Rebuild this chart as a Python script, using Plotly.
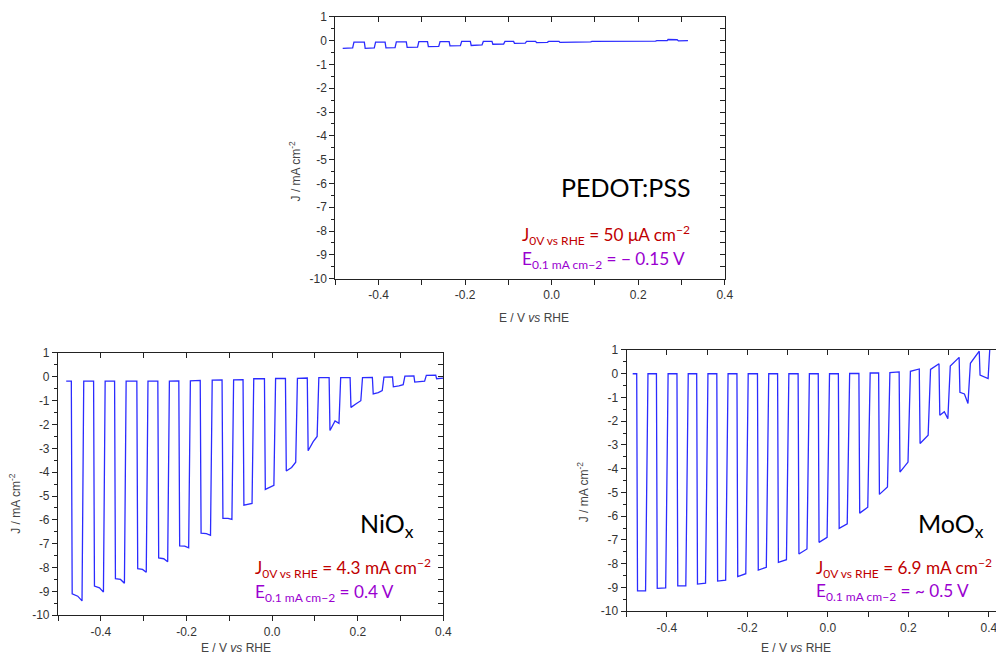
import plotly.graph_objects as go

# ------------------------------------------------------------------ data
# Chopped-light LSV curves, J in mA cm^-2 vs E in V vs RHE.
# Each curve: light-on / light-off potentials, photocurrent at start / middle / end
# of every light pulse, dark current at start / end of every dark interval.

# PEDOT:PSS (curve starts illuminated)
pedot_e_start = -0.483
pedot_e_end = 0.315
pedot_j_pre = None
pedot_on = [-0.483, -0.433, -0.385, -0.336, -0.287, -0.237, -0.188, -0.138,
            -0.088, -0.037, 0.017, 0.067, 0.117, 0.167, 0.217, 0.267]
pedot_off = [-0.460, -0.410, -0.362, -0.310, -0.261, -0.211, -0.161, -0.111,
             -0.061, -0.010, 0.040, 0.090, 0.140, 0.190, 0.240, 0.290]
pedot_light_a = [-0.32, -0.32, -0.30, -0.28, -0.25, -0.22, -0.20, -0.15,
                 -0.11, -0.08, -0.07, -0.05, -0.04, -0.03, -0.02, 0.05]
pedot_light_m = [-0.31, -0.31, -0.30, -0.28, -0.25, -0.22, -0.19, -0.15,
                 -0.11, -0.08, -0.07, -0.05, -0.04, -0.03, -0.02, 0.05]
pedot_light_b = [-0.30, -0.30, -0.29, -0.27, -0.24, -0.21, -0.18, -0.14,
                 -0.10, -0.07, -0.06, -0.05, -0.04, -0.03, -0.02, 0.04]
pedot_dark_a = [-0.06, -0.06, -0.05, -0.04, -0.04, -0.03, -0.03, -0.03,
                -0.03, -0.03, -0.04, -0.03, -0.02, -0.01, 0.00, -0.01]
pedot_dark_b = [-0.06, -0.06, -0.05, -0.04, -0.04, -0.03, -0.03, -0.03,
                -0.03, -0.03, -0.04, -0.03, -0.02, -0.01, 0.00, 0.00]

# NiOx
niox_e_start = -0.481
niox_e_end = 0.400
niox_j_pre = -0.18
niox_on = [-0.469, -0.417, -0.368, -0.316, -0.267, -0.218, -0.168, -0.117, -0.068,
           -0.018, 0.031, 0.082, 0.133, 0.182, 0.234, 0.281, 0.331, 0.382]
niox_off = [-0.444, -0.394, -0.345, -0.294, -0.244, -0.195, -0.144, -0.094, -0.047,
            0.004, 0.055, 0.105, 0.156, 0.207, 0.257, 0.306, 0.356, 0.400]
niox_light_a = [-9.10, -8.78, -8.47, -8.05, -7.60, -7.09, -6.56, -5.94, -5.38,
                -4.72, -3.95, -3.10, -2.25, -1.28, -0.72, -0.42, -0.22, -0.08]
niox_light_m = [-9.20, -8.85, -8.50, -8.08, -7.63, -7.10, -6.58, -5.94, -5.34,
                -4.64, -3.80, -2.72, -1.85, -1.12, -0.66, -0.38, -0.20, -0.06]
niox_light_b = [-9.40, -9.03, -8.66, -8.20, -7.76, -7.17, -6.65, -5.98, -5.31,
                -4.55, -3.58, -2.50, -1.95, -1.00, -0.58, -0.33, -0.18, -0.05]
niox_dark_a = [-0.18, -0.18, -0.18, -0.18, -0.18, -0.17, -0.14, -0.13, -0.08,
               -0.07, -0.06, -0.03, -0.03, -0.03, -0.01, 0.03, 0.06]
niox_dark_b = [-0.18, -0.18, -0.18, -0.18, -0.17, -0.15, -0.13, -0.12, -0.08,
               -0.07, -0.05, -0.03, -0.03, -0.02, 0.00, 0.04, 0.07]

# MoOx
moox_e_start = -0.485
moox_e_end = 0.410
moox_j_pre = 0.0
moox_on = [-0.475, -0.426, -0.375, -0.326, -0.276, -0.226, -0.175, -0.125, -0.074,
           -0.024, 0.026, 0.077, 0.126, 0.177, 0.227, 0.276, 0.326, 0.376]
moox_off = [-0.453, -0.403, -0.353, -0.304, -0.254, -0.204, -0.153, -0.103, -0.052,
            -0.002, 0.048, 0.099, 0.148, 0.199, 0.249, 0.298, 0.348, 0.398]
moox_light_a = [-9.14, -9.04, -8.93, -8.86, -8.73, -8.54, -8.27, -7.94, -7.59,
                -7.10, -6.51, -5.87, -5.08, -4.14, -2.94, -1.75, -0.78, -0.06]
moox_light_m = [-9.14, -9.03, -8.93, -8.84, -8.71, -8.48, -8.21, -7.88, -7.48,
                -7.00, -6.40, -5.73, -4.92, -3.92, -2.75, -1.60, -0.85, -0.12]
moox_light_b = [-9.14, -9.02, -8.93, -8.82, -8.69, -8.42, -8.15, -7.83, -7.38,
                -6.89, -6.32, -5.62, -4.77, -3.72, -2.59, -1.89, -1.25, -0.20]
moox_dark_a = [0.00, 0.00, 0.00, 0.00, 0.00, 0.00, 0.00, 0.00, 0.00,
               0.00, 0.01, 0.03, 0.05, 0.10, 0.18, 0.32, 0.44, 1.60]
moox_dark_b = [0.00, 0.00, 0.00, 0.00, 0.00, 0.00, 0.00, 0.00, 0.00,
               0.00, 0.01, 0.03, 0.08, 0.20, 0.42, 0.69, 0.95, 1.60]

# axis ticks
x_tick_vals = [-0.5, -0.4, -0.3, -0.2, -0.1, 0.0, 0.1, 0.2, 0.3, 0.4]
x_tick_text = ["", "-0.4", "", "-0.2", "", "0.0", "", "0.2", "", "0.4"]
y_tick_vals = [-10, -9, -8, -7, -6, -5, -4, -3, -2, -1, 0, 1]
y_tick_text = ["-10", "-9", "-8", "-7", "-6", "-5", "-4", "-3", "-2", "-1", "0", "1"]
y_minor_vals = [-9.5, -8.5, -7.5, -6.5, -5.5, -4.5, -3.5, -2.5, -1.5, -0.5, 0.5]
y_range = [-10, 1]


# ------------------------------------------------------------------ helpers
def chopped(e_start, j_pre, on, off, la, lm, lb, da, db, e_end, fall, rise):
    E, J = [], []
    if j_pre is not None:
        E += [e_start, on[0]]
        J += [j_pre, j_pre]
    for i in range(len(on)):
        t0 = on[i] if (i == 0 and j_pre is None) else on[i] + fall
        E += [t0, on[i] + 0.6 * (off[i] - on[i]), off[i]]
        J += [la[i], lm[i], lb[i]]
        if i < len(da):
            nxt = on[i + 1] if i + 1 < len(on) else e_end
            E += [off[i] + rise, nxt]
            J += [da[i], db[i]]
    return E, J


W, H = 1004, 655
# page offset / scale as photographed (measured): picture = off + scale * layout px
OX, OY, SX, SY = 8.0, 16.6, 0.99, 0.974


def px_x(p):
    return min(1.0, max(0.0, (p - OX) / SX / W))


def px_y(p):
    return min(1.0, max(0.0, 1 - (p - OY) / SY / H))


FRAME = "#222222"
TICKFONT = dict(family="Liberation Sans, Arial, sans-serif", size=12, color="#333333")
BLUE = "#2b2bff"

fig = go.Figure()

curves = [
    chopped(pedot_e_start, pedot_j_pre, pedot_on, pedot_off, pedot_light_a, pedot_light_m,
            pedot_light_b, pedot_dark_a, pedot_dark_b, pedot_e_end, 0.002, 0.003),
    chopped(niox_e_start, niox_j_pre, niox_on, niox_off, niox_light_a, niox_light_m,
            niox_light_b, niox_dark_a, niox_dark_b, niox_e_end, 0.002, 0.004),
    chopped(moox_e_start, moox_j_pre, moox_on, moox_off, moox_light_a, moox_light_m,
            moox_light_b, moox_dark_a, moox_dark_b, moox_e_end, 0.002, 0.006),
]
for k, (E, J) in enumerate(curves):
    sfx = "" if k == 0 else str(k + 1)
    fig.add_trace(go.Scatter(x=E, y=J, mode="lines", line=dict(color=BLUE, width=1.3),
                             xaxis="x" + sfx, yaxis="y" + sfx, showlegend=False,
                             hoverinfo="skip"))
    # dummy traces for mirrored inside-tick axes
    fig.add_trace(go.Scatter(x=[None], y=[None], xaxis="x" + str(k + 4), yaxis="y" + str(k + 4),
                             showlegend=False, hoverinfo="skip"))

# target picture pixels: (left, right, top, bottom), x range, right frame line shown
panels = [
    ((335, 724, 18.5, 279), [-0.5, 0.4], True),
    ((58, 443, 353, 614), [-0.5, 0.4], True),
    ((626, 1010, 350, 610), [-0.5, 0.435], False),
]

layout = dict(width=W, height=H, margin=dict(l=0, r=0, t=0, b=0),
              paper_bgcolor="white", plot_bgcolor="white", showlegend=False)

for k, ((l, r, t, b), xr, rline) in enumerate(panels):
    sfx = "" if k == 0 else str(k + 1)
    ov = str(k + 4)
    xd = [px_x(l), px_x(r)]
    yd = [px_y(b), px_y(t)]
    layout["xaxis" + sfx] = dict(
        domain=xd, anchor="y" + sfx, range=xr, showline=True, linecolor=FRAME, linewidth=1.2,
        mirror=True, ticks="outside", ticklen=5, tickwidth=1, tickcolor=FRAME,
        tickmode="array", tickvals=x_tick_vals, ticktext=x_tick_text, tickfont=TICKFONT,
        showgrid=False, zeroline=False)
    layout["yaxis" + sfx] = dict(
        domain=yd, anchor="x" + sfx, range=y_range, showline=True, linecolor=FRAME, linewidth=1.2,
        mirror=rline, ticks="outside", ticklen=5, tickwidth=1, tickcolor=FRAME,
        tickmode="array", tickvals=y_tick_vals, ticktext=y_tick_text, tickfont=TICKFONT,
        minor=dict(tickmode="array", tickvals=y_minor_vals, ticks="outside", ticklen=3,
                   tickcolor=FRAME, tickwidth=1),
        showgrid=False, zeroline=False)
    layout["xaxis" + ov] = dict(
        overlaying="x" + sfx, side="top", anchor="y" + ov, range=xr, showline=False,
        ticks="inside", ticklen=5, tickwidth=1, tickcolor=FRAME, tickmode="array",
        tickvals=x_tick_vals[1:-1], showticklabels=False, showgrid=False, zeroline=False)
    layout["yaxis" + ov] = dict(
        overlaying="y" + sfx, side="right", anchor="x" + ov, range=y_range, showline=False,
        ticks="inside", ticklen=5, tickwidth=1, tickcolor=FRAME, tickmode="array",
        tickvals=sorted(y_tick_vals + y_minor_vals)[1:-1], showticklabels=False,
        showgrid=False, zeroline=False)

fig.update_layout(**layout)

# ------------------------------------------------------------------ annotations
AXFONT = dict(family="Liberation Sans, Arial, sans-serif", size=12, color="#444444")
LABFONT = "Lato, Carlito, Calibri, sans-serif"
RED = "#c00000"
PURPLE = "#9a00d0"

annos = []
# axis titles
for cx, cy in [(533, 318), (236, 647), (795, 647)]:
    annos.append(dict(text="E / V <i>vs</i> RHE", x=px_x(cx), y=px_y(cy), xref="paper",
                      yref="paper", xanchor="center", yanchor="middle", showarrow=False,
                      font=AXFONT))
for cx, cy in [(295, 172), (15, 503), (582, 492)]:
    annos.append(dict(text="J / mA cm<sup>-2</sup>", x=px_x(cx), y=px_y(cy), xref="paper",
                      yref="paper", xanchor="center", yanchor="middle", showarrow=False,
                      textangle=-90, font=AXFONT))

# panel labels
for txt, lx, cy in [("PEDOT:PSS", 558, 188), ("NiO<sub>x</sub>", 358, 524),
                    ("MoO<sub>x</sub>", 915, 524)]:
    annos.append(dict(text=txt, x=px_x(lx), y=px_y(cy), xref="paper", yref="paper",
                      xanchor="left", yanchor="middle", showarrow=False,
                      font=dict(family=LABFONT, size=25, color="black")))

j_texts = ["J<sub>0V vs RHE</sub> = 50 μA cm<sup>−2</sup>",
           "J<sub>0V vs RHE</sub> = 4.3 mA cm<sup>−2</sup>",
           "J<sub>0V vs RHE</sub> = 6.9 mA cm<sup>−2</sup>"]
e_texts = ["E<sub>0.1 mA cm−2</sub> = − 0.15 V",
           "E<sub>0.1 mA cm−2</sub> = 0.4 V",
           "E<sub>0.1 mA cm−2</sub> = ~ 0.5 V"]
for jt, et, lx, jy, ey in zip(j_texts, e_texts, [519, 253, 813], [236, 567, 567],
                              [260, 592, 591]):
    annos.append(dict(text=jt, x=px_x(lx), y=px_y(jy), xref="paper", yref="paper",
                      xanchor="left", yanchor="middle", showarrow=False,
                      font=dict(family=LABFONT, size=17.2, color=RED)))
    annos.append(dict(text=et, x=px_x(lx), y=px_y(ey), xref="paper", yref="paper",
                      xanchor="left", yanchor="middle", showarrow=False,
                      font=dict(family=LABFONT, size=17.2, color=PURPLE)))

fig.update_layout(annotations=annos)
fig.write_html("out.html", config={"displayModeBar": False})
